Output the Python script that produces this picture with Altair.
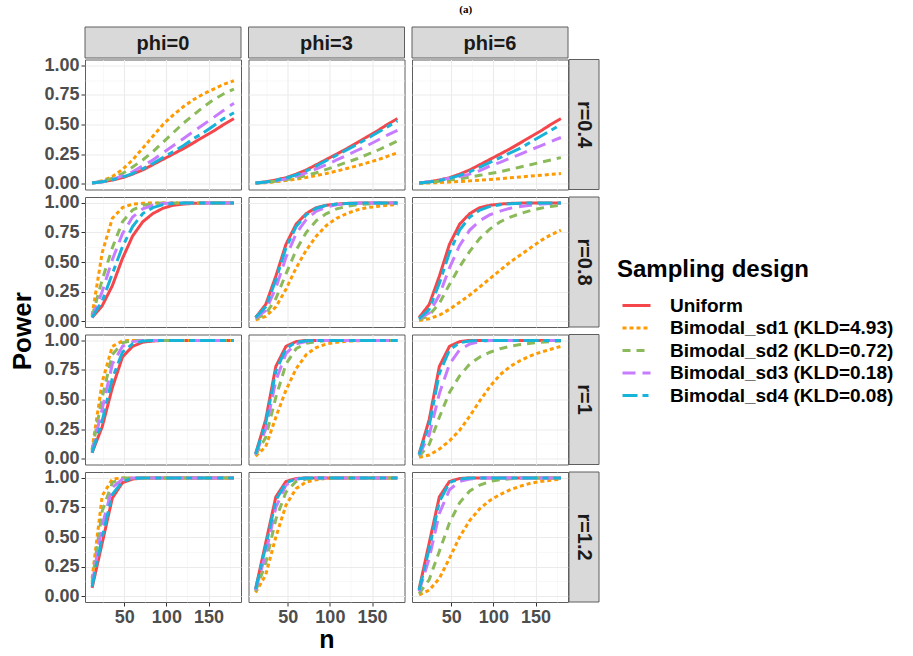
import altair as alt
import pandas as pd

# ---------------- data ----------------
n_values = [12, 24, 36, 48, 60, 72, 84, 96, 108, 120, 132, 144, 156, 168, 180]
designs = ["Uniform", "Bimodal_sd1 (KLD=4.93)", "Bimodal_sd2 (KLD=0.72)",
           "Bimodal_sd3 (KLD=0.18)", "Bimodal_sd4 (KLD=0.08)"]
phi_labels = ["phi=0", "phi=3", "phi=6"]
r_labels = ["r=0.4", "r=0.8", "r=1", "r=1.2"]
colors = ["#F5474B", "#FF9A00", "#8BBA5A", "#C77CFF", "#17B3D9"]
dashes = [[1, 0], [4, 3], [8, 6], [13, 7], [15, 5, 6, 5]]

# order inside each panel: Uniform, sd1, sd2, sd3, sd4
r04_phi0 = [
    [0.005, 0.015, 0.03, 0.05, 0.08, 0.115, 0.16, 0.205, 0.25, 0.295, 0.345, 0.395, 0.445, 0.50, 0.55],
    [0.005, 0.025, 0.06, 0.12, 0.20, 0.30, 0.40, 0.50, 0.58, 0.65, 0.71, 0.76, 0.80, 0.84, 0.87],
    [0.005, 0.02, 0.045, 0.085, 0.14, 0.20, 0.27, 0.35, 0.43, 0.51, 0.58, 0.65, 0.71, 0.76, 0.80],
    [0.005, 0.015, 0.035, 0.065, 0.10, 0.15, 0.20, 0.26, 0.32, 0.38, 0.44, 0.50, 0.56, 0.62, 0.68],
    [0.005, 0.015, 0.032, 0.055, 0.085, 0.125, 0.17, 0.22, 0.27, 0.32, 0.38, 0.43, 0.49, 0.55, 0.60],
]
r04_phi3 = [
    [0.005, 0.015, 0.03, 0.05, 0.08, 0.115, 0.16, 0.205, 0.25, 0.295, 0.345, 0.395, 0.445, 0.50, 0.55],
    [0.002, 0.008, 0.016, 0.026, 0.038, 0.052, 0.068, 0.086, 0.106, 0.128, 0.15, 0.175, 0.20, 0.23, 0.26],
    [0.003, 0.01, 0.02, 0.032, 0.048, 0.068, 0.092, 0.12, 0.15, 0.18, 0.21, 0.245, 0.28, 0.32, 0.36],
    [0.004, 0.012, 0.024, 0.04, 0.062, 0.09, 0.125, 0.16, 0.20, 0.24, 0.28, 0.32, 0.365, 0.41, 0.45],
    [0.005, 0.014, 0.028, 0.047, 0.074, 0.107, 0.15, 0.195, 0.24, 0.285, 0.33, 0.38, 0.43, 0.48, 0.53],
]
r04_phi6 = [
    [0.005, 0.015, 0.03, 0.05, 0.08, 0.115, 0.16, 0.205, 0.25, 0.295, 0.345, 0.395, 0.445, 0.50, 0.55],
    [0.002, 0.005, 0.009, 0.013, 0.018, 0.023, 0.029, 0.035, 0.042, 0.049, 0.056, 0.063, 0.07, 0.078, 0.085],
    [0.003, 0.01, 0.02, 0.03, 0.04, 0.055, 0.07, 0.085, 0.10, 0.12, 0.14, 0.16, 0.18, 0.20, 0.22],
    [0.005, 0.015, 0.03, 0.045, 0.06, 0.08, 0.11, 0.15, 0.18, 0.215, 0.25, 0.285, 0.32, 0.355, 0.39],
    [0.005, 0.014, 0.027, 0.045, 0.07, 0.10, 0.14, 0.18, 0.22, 0.26, 0.30, 0.35, 0.40, 0.45, 0.50],
]
r08_phi0 = [
    [0.03, 0.13, 0.30, 0.53, 0.72, 0.84, 0.91, 0.955, 0.98, 0.99, 0.996, 0.999, 1.0, 1.0, 1.0],
    [0.05, 0.58, 0.87, 0.96, 0.99, 0.997, 1.0, 1.0, 1.0, 1.0, 1.0, 1.0, 1.0, 1.0, 1.0],
    [0.04, 0.35, 0.62, 0.84, 0.94, 0.98, 0.995, 1.0, 1.0, 1.0, 1.0, 1.0, 1.0, 1.0, 1.0],
    [0.03, 0.25, 0.52, 0.74, 0.88, 0.95, 0.98, 0.995, 1.0, 1.0, 1.0, 1.0, 1.0, 1.0, 1.0],
    [0.03, 0.17, 0.40, 0.63, 0.80, 0.91, 0.96, 0.985, 0.995, 1.0, 1.0, 1.0, 1.0, 1.0, 1.0],
]
r08_phi3 = [
    [0.03, 0.14, 0.38, 0.65, 0.82, 0.91, 0.96, 0.98, 0.99, 0.996, 0.998, 1.0, 1.0, 1.0, 1.0],
    [0.01, 0.04, 0.12, 0.27, 0.45, 0.60, 0.72, 0.81, 0.87, 0.91, 0.94, 0.96, 0.97, 0.98, 0.985],
    [0.02, 0.06, 0.19, 0.40, 0.60, 0.75, 0.85, 0.91, 0.95, 0.97, 0.985, 0.99, 0.995, 1.0, 1.0],
    [0.025, 0.09, 0.28, 0.54, 0.74, 0.86, 0.93, 0.965, 0.985, 0.993, 0.997, 1.0, 1.0, 1.0, 1.0],
    [0.03, 0.12, 0.35, 0.62, 0.80, 0.90, 0.955, 0.98, 0.99, 0.996, 0.998, 1.0, 1.0, 1.0, 1.0],
]
r08_phi6 = [
    [0.03, 0.14, 0.38, 0.65, 0.82, 0.91, 0.96, 0.98, 0.99, 0.996, 0.998, 1.0, 1.0, 1.0, 1.0],
    [0.005, 0.02, 0.05, 0.10, 0.16, 0.22, 0.29, 0.36, 0.43, 0.50, 0.56, 0.62, 0.68, 0.73, 0.77],
    [0.01, 0.05, 0.15, 0.31, 0.46, 0.59, 0.70, 0.78, 0.84, 0.88, 0.91, 0.935, 0.955, 0.97, 0.98],
    [0.02, 0.07, 0.22, 0.45, 0.64, 0.77, 0.85, 0.90, 0.93, 0.955, 0.97, 0.98, 0.99, 0.995, 1.0],
    [0.02, 0.10, 0.32, 0.58, 0.77, 0.88, 0.94, 0.97, 0.985, 0.993, 0.997, 1.0, 1.0, 1.0, 1.0],
]
r1_phi0 = [
    [0.05, 0.27, 0.60, 0.86, 0.95, 0.985, 0.995, 1.0, 1.0, 1.0, 1.0, 1.0, 1.0, 1.0, 1.0],
    [0.08, 0.65, 0.95, 0.995, 1.0, 1.0, 1.0, 1.0, 1.0, 1.0, 1.0, 1.0, 1.0, 1.0, 1.0],
    [0.07, 0.52, 0.88, 0.98, 1.0, 1.0, 1.0, 1.0, 1.0, 1.0, 1.0, 1.0, 1.0, 1.0, 1.0],
    [0.06, 0.42, 0.80, 0.95, 0.99, 1.0, 1.0, 1.0, 1.0, 1.0, 1.0, 1.0, 1.0, 1.0, 1.0],
    [0.05, 0.32, 0.68, 0.90, 0.97, 0.995, 1.0, 1.0, 1.0, 1.0, 1.0, 1.0, 1.0, 1.0, 1.0],
]
r1_phi3 = [
    [0.04, 0.33, 0.78, 0.95, 0.99, 1.0, 1.0, 1.0, 1.0, 1.0, 1.0, 1.0, 1.0, 1.0, 1.0],
    [0.02, 0.10, 0.35, 0.58, 0.76, 0.88, 0.94, 0.97, 0.985, 0.993, 0.997, 1.0, 1.0, 1.0, 1.0],
    [0.03, 0.18, 0.52, 0.80, 0.93, 0.975, 0.99, 1.0, 1.0, 1.0, 1.0, 1.0, 1.0, 1.0, 1.0],
    [0.035, 0.25, 0.66, 0.89, 0.97, 0.99, 1.0, 1.0, 1.0, 1.0, 1.0, 1.0, 1.0, 1.0, 1.0],
    [0.04, 0.30, 0.74, 0.93, 0.985, 0.997, 1.0, 1.0, 1.0, 1.0, 1.0, 1.0, 1.0, 1.0, 1.0],
]
r1_phi6 = [
    [0.04, 0.33, 0.78, 0.95, 0.99, 1.0, 1.0, 1.0, 1.0, 1.0, 1.0, 1.0, 1.0, 1.0, 1.0],
    [0.01, 0.03, 0.08, 0.15, 0.24, 0.36, 0.49, 0.61, 0.71, 0.78, 0.83, 0.87, 0.90, 0.925, 0.95],
    [0.02, 0.12, 0.35, 0.56, 0.70, 0.80, 0.86, 0.90, 0.93, 0.95, 0.965, 0.975, 0.985, 0.99, 0.995],
    [0.03, 0.20, 0.55, 0.80, 0.92, 0.97, 0.99, 1.0, 1.0, 1.0, 1.0, 1.0, 1.0, 1.0, 1.0],
    [0.035, 0.28, 0.72, 0.92, 0.98, 0.995, 1.0, 1.0, 1.0, 1.0, 1.0, 1.0, 1.0, 1.0, 1.0],
]
r12_phi0 = [
    [0.07, 0.45, 0.83, 0.96, 0.99, 1.0, 1.0, 1.0, 1.0, 1.0, 1.0, 1.0, 1.0, 1.0, 1.0],
    [0.15, 0.85, 0.99, 1.0, 1.0, 1.0, 1.0, 1.0, 1.0, 1.0, 1.0, 1.0, 1.0, 1.0, 1.0],
    [0.12, 0.72, 0.96, 1.0, 1.0, 1.0, 1.0, 1.0, 1.0, 1.0, 1.0, 1.0, 1.0, 1.0, 1.0],
    [0.10, 0.60, 0.92, 0.99, 1.0, 1.0, 1.0, 1.0, 1.0, 1.0, 1.0, 1.0, 1.0, 1.0, 1.0],
    [0.08, 0.50, 0.86, 0.97, 0.995, 1.0, 1.0, 1.0, 1.0, 1.0, 1.0, 1.0, 1.0, 1.0, 1.0],
]
r12_phi3 = [
    [0.06, 0.45, 0.84, 0.97, 0.995, 1.0, 1.0, 1.0, 1.0, 1.0, 1.0, 1.0, 1.0, 1.0, 1.0],
    [0.03, 0.18, 0.50, 0.77, 0.91, 0.965, 0.985, 0.995, 1.0, 1.0, 1.0, 1.0, 1.0, 1.0, 1.0],
    [0.04, 0.28, 0.65, 0.88, 0.97, 0.99, 1.0, 1.0, 1.0, 1.0, 1.0, 1.0, 1.0, 1.0, 1.0],
    [0.05, 0.36, 0.75, 0.94, 0.99, 1.0, 1.0, 1.0, 1.0, 1.0, 1.0, 1.0, 1.0, 1.0, 1.0],
    [0.06, 0.42, 0.81, 0.96, 0.99, 1.0, 1.0, 1.0, 1.0, 1.0, 1.0, 1.0, 1.0, 1.0, 1.0],
]
r12_phi6 = [
    [0.06, 0.45, 0.84, 0.97, 0.995, 1.0, 1.0, 1.0, 1.0, 1.0, 1.0, 1.0, 1.0, 1.0, 1.0],
    [0.01, 0.05, 0.15, 0.32, 0.50, 0.64, 0.74, 0.81, 0.86, 0.90, 0.93, 0.955, 0.97, 0.98, 0.99],
    [0.02, 0.14, 0.38, 0.62, 0.79, 0.89, 0.94, 0.97, 0.985, 0.993, 1.0, 1.0, 1.0, 1.0, 1.0],
    [0.04, 0.32, 0.70, 0.90, 0.97, 0.99, 1.0, 1.0, 1.0, 1.0, 1.0, 1.0, 1.0, 1.0, 1.0],
    [0.05, 0.40, 0.80, 0.96, 0.99, 1.0, 1.0, 1.0, 1.0, 1.0, 1.0, 1.0, 1.0, 1.0, 1.0],
]

panel_values = [
    [r04_phi0, r04_phi3, r04_phi6],
    [r08_phi0, r08_phi3, r08_phi6],
    [r1_phi0, r1_phi3, r1_phi6],
    [r12_phi0, r12_phi3, r12_phi6],
]

# ---------------- layout / style ----------------
W, H, GAP, STRIP = 156, 130, 7.5, 31
BORDER = "#5E5E5E"
FONT = "Arial, Liberation Sans, Helvetica, sans-serif"

y_grid_vals = [0, 0.125, 0.25, 0.375, 0.5, 0.625, 0.75, 0.875, 1.0]
x_grid_vals = [25, 50, 75, 100, 125, 150, 175]
MAJ_Y = "abs(datum.value * 4 - round(datum.value * 4)) < 0.001"
MAJ_X = "abs(datum.value / 50 - round(datum.value / 50)) < 0.001"


def make_axis(values, major, show, fmt, title=None, title_y=None, title_pad=4, title_size=26):
    kw = dict(
        values=values, grid=True, domain=False, labelOverlap=False, format=fmt,
        gridColor={"condition": {"test": major, "value": "#EBEBEB"}, "value": "#F3F3F3"},
        gridWidth={"condition": {"test": major, "value": 1.1}, "value": 0.6},
    )
    if show:
        kw.update(
            labels=True, ticks=True, tickSize=4, tickWidth=1, tickColor="#333333",
            tickOpacity={"condition": {"test": major, "value": 1}, "value": 0},
            labelExpr=f"({major}) ? datum.label : ''",
            labelFontSize=18, labelFontWeight="bold", labelColor="#4D4D4D",
            labelPadding=2, labelFont=FONT,
        )
    else:
        kw.update(labels=False, ticks=False)
    if title is not None:
        kw.update(title=title, titleFontSize=title_size, titleFontWeight="bold",
                  titleColor="black", titleFont=FONT, titlePadding=title_pad)
        if title_y is not None:
            kw.update(titleY=title_y)
    else:
        kw.update(title=None)
    return alt.Axis(**kw)


def panel(i, j):
    vals = panel_values[i][j]
    rows = []
    for k, d in enumerate(designs):
        for n, p in zip(n_values, vals[k]):
            rows.append({"n": n, "power": p, "design": d, "order": k})
    df = pd.DataFrame(rows)
    y_axis = make_axis(
        y_grid_vals, MAJ_Y, show=(j == 0), fmt=".2f",
        title=("Power" if (j == 0 and i == 1) else None),
        title_y=(H + GAP / 2 if (j == 0 and i == 1) else None), title_pad=8,
    )
    x_axis = make_axis(
        x_grid_vals, MAJ_X, show=(i == 3), fmt="d",
        title=("n" if (i == 3 and j == 1) else None), title_pad=1, title_size=25,
    )
    return alt.Chart(df).mark_line(strokeWidth=3, strokeCap="butt").encode(
        x=alt.X("n:Q", scale=alt.Scale(domain=[3.6, 188.4], nice=False, zero=False), axis=x_axis),
        y=alt.Y("power:Q", scale=alt.Scale(domain=[-0.05, 1.05], nice=False, zero=False), axis=y_axis),
        color=alt.Color("design:N", scale=alt.Scale(domain=designs, range=colors),
                        legend=alt.Legend(title="Sampling design")),
        strokeDash=alt.StrokeDash("design:N", scale=alt.Scale(domain=designs, range=dashes),
                                  legend=alt.Legend(title="Sampling design")),
        detail="order:O",
    ).properties(width=W, height=H)


def strip_top(label):
    base = alt.Chart(pd.DataFrame({"label": [label]}))
    rect = base.mark_rect(fill="#D9D9D9", stroke=BORDER, strokeWidth=1).encode(
        x=alt.value(0), x2=alt.value(W), y=alt.value(0), y2=alt.value(STRIP))
    txt = base.mark_text(fontSize=20, fontWeight="bold", color="#1A1A1A", font=FONT,
                         baseline="middle").encode(
        x=alt.value(W / 2), y=alt.value(STRIP / 2 + 1), text="label:N")
    return alt.layer(rect, txt).properties(
        width=W, height=STRIP - GAP + 1, view=alt.ViewBackground(stroke="transparent"))


def strip_right(label):
    base = alt.Chart(pd.DataFrame({"label": [label]}))
    rect = base.mark_rect(fill="#D9D9D9", stroke=BORDER, strokeWidth=1).encode(
        x=alt.value(-GAP + 1), x2=alt.value(-GAP + 31), y=alt.value(0), y2=alt.value(H))
    txt = base.mark_text(fontSize=20, fontWeight="bold", color="#1A1A1A", font=FONT,
                         angle=90, baseline="middle").encode(
        x=alt.value(-GAP + 16), y=alt.value(H / 2), text="label:N")
    return alt.layer(rect, txt).properties(
        width=24, height=H, view=alt.ViewBackground(stroke="transparent"))


def blank():
    return alt.Chart(pd.DataFrame({"a": [0]})).mark_point(opacity=0).encode(
        x=alt.value(0), y=alt.value(0)
    ).properties(width=24, height=STRIP - GAP + 1, view=alt.ViewBackground(stroke="transparent"))


cells = [strip_top(p) for p in phi_labels] + [blank()]
for i, r in enumerate(r_labels):
    cells += [panel(i, j) for j in range(3)] + [strip_right(r)]

chart = alt.concat(*cells, columns=4, spacing=GAP, bounds="flush").properties(
    title=alt.Title("(a)", fontSize=11, font="Liberation Serif", fontWeight="bold",
                    color="black", anchor="middle", offset=9, dx=14),
    padding={"left": 9, "top": 3, "right": 2, "bottom": 0},
).configure(font=FONT).configure_view(
    stroke=BORDER, strokeWidth=1
).configure_legend(
    orient="none", legendX=532, legendY=231,
    titleFontSize=24, titleFontWeight="bold", titleColor="black", titleFont=FONT,
    titleLimit=400,
    labelFontSize=19, labelFontWeight="bold", labelColor="black", labelFont=FONT,
    symbolType="M-1.4,0L1.4,0", symbolSize=400, symbolStrokeWidth=3, symbolOffset=8,
    rowPadding=0.5, labelOffset=22, titlePadding=12, labelLimit=400,
)

chart.save("out.html", embed_options={"renderer": "svg", "actions": False})
